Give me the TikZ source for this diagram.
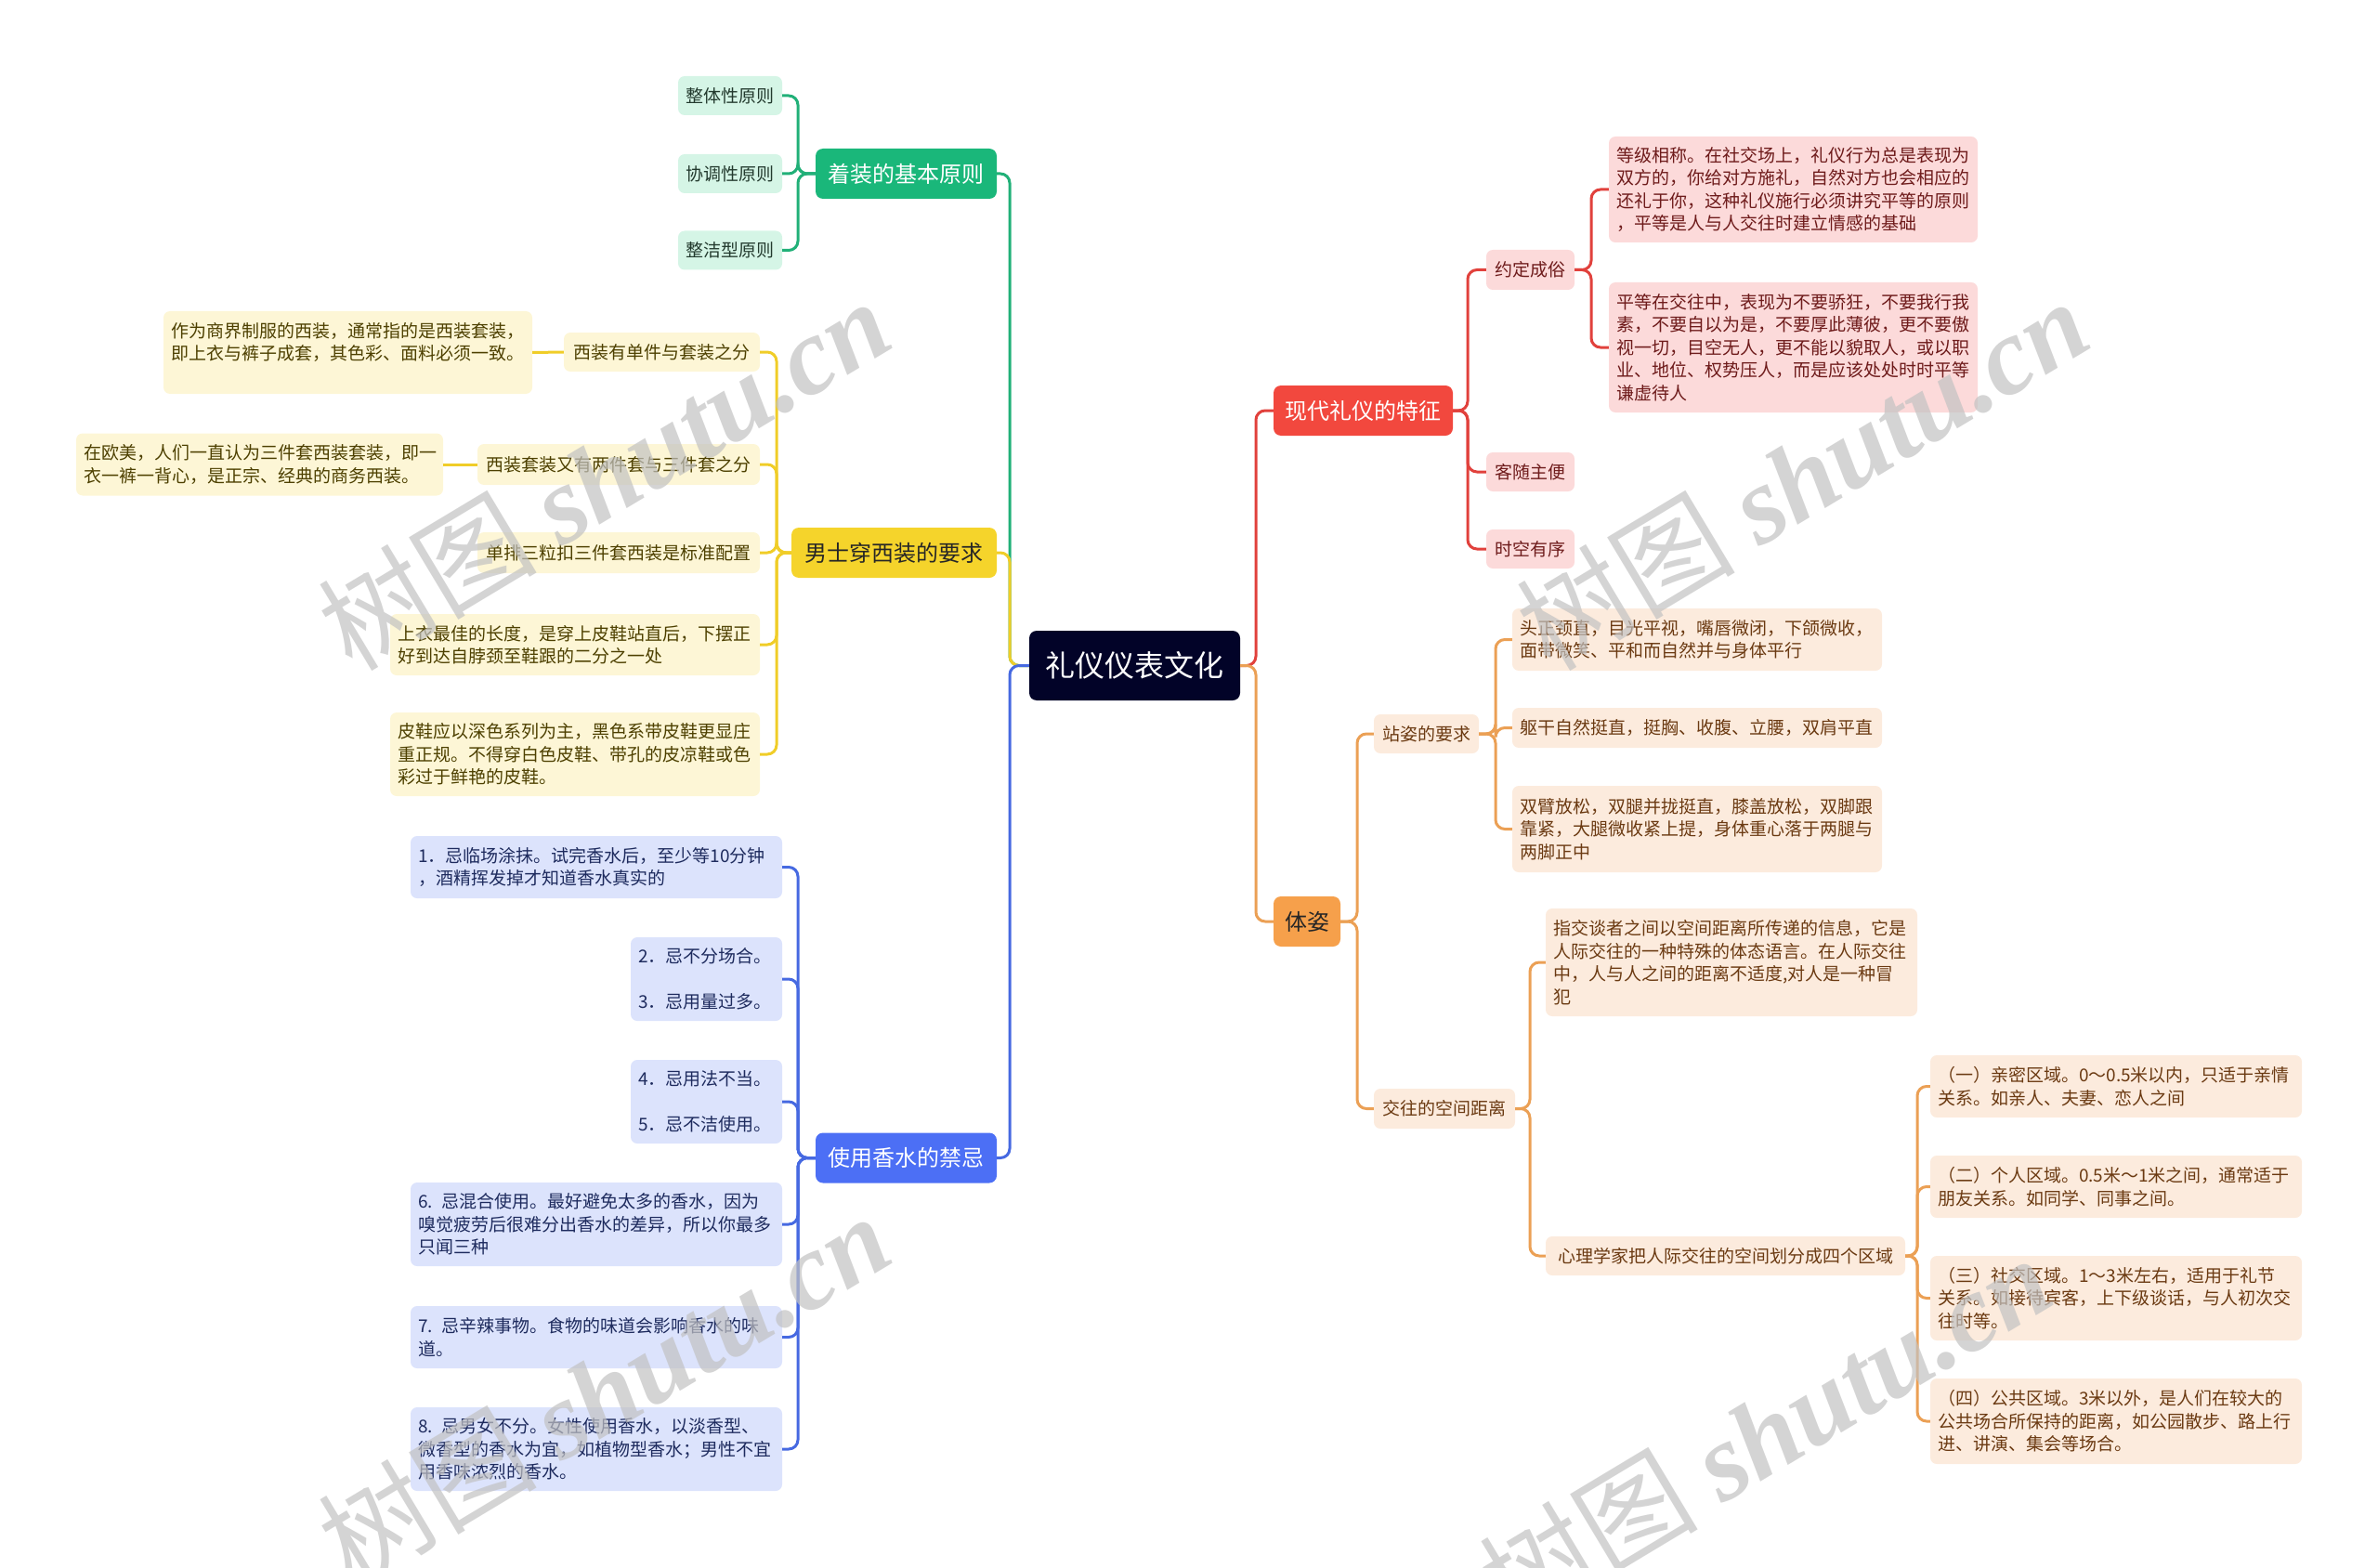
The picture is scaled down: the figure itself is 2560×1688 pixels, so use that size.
\documentclass[tikz,border=0pt]{standalone}
\usepackage{fontspec}
\setmainfont{Noto Sans CJK SC}
\newfontfamily\wmserif{Liberation Serif}
\usetikzlibrary{calc}
\setlength{\parindent}{0pt}
\definecolor{gMain}{RGB}{26,183,122}
\definecolor{gLight}{RGB}{213,245,230}
\definecolor{gLine}{RGB}{33,176,120}
\definecolor{gText}{RGB}{35,58,46}
\definecolor{yMain}{RGB}{245,212,43}
\definecolor{yLight}{RGB}{253,246,214}
\definecolor{yLine}{RGB}{240,205,40}
\definecolor{yText}{RGB}{77,64,0}
\definecolor{bMain}{RGB}{76,111,245}
\definecolor{bLight}{RGB}{220,227,252}
\definecolor{bLine}{RGB}{70,105,225}
\definecolor{bText}{RGB}{30,43,94}
\definecolor{rMain}{RGB}{242,72,62}
\definecolor{rLight}{RGB}{252,218,218}
\definecolor{rLine}{RGB}{225,65,60}
\definecolor{rText}{RGB}{110,27,27}
\definecolor{oMain}{RGB}{246,160,75}
\definecolor{oLight}{RGB}{252,235,221}
\definecolor{oLine}{RGB}{235,160,85}
\definecolor{oText}{RGB}{107,58,18}
\definecolor{rootC}{RGB}{2,3,40}
\begin{document}
\begin{tikzpicture}[x=1pt,y=-1pt,
  rootbox/.style={rounded corners=8pt, fill=rootC, text=white, inner sep=0pt,
    minimum width=227pt, minimum height=75pt, font=\fontsize{32}{38}\selectfont},
  mainbox/.style={rounded corners=8pt, inner sep=0pt, minimum height=54pt,
    font=\fontsize{24}{30}\selectfont},
  shortbox/.style={rounded corners=7pt, inner sep=0pt, minimum height=42pt,
    font=\fontsize{19}{24.5}\selectfont},
  leafbox/.style={rounded corners=7pt, inner xsep=8pt, inner ysep=3pt, align=left,
    font=\fontsize{19}{24.5}\selectfont},
  gs/.style={fill=gLight, text=gText},
  ys/.style={fill=yLight, text=yText},
  bs/.style={fill=bLight, text=bText},
  rs/.style={fill=rLight, text=rText},
  os/.style={fill=oLight, text=oText},
  link/.style={line width=3pt, rounded corners=10pt},
  wm/.style={text=black!24, opacity=0.7, font=\fontsize{118}{118}\selectfont}
]
\useasboundingbox (0,0) rectangle (2560,1688);

% root
\node[rootbox] (root) at (1221.5,716.5) {礼仪仪表文化};

% spines / brackets
\coordinate (L) at (1087,0);
\coordinate (R) at (1352,0);
\coordinate (gx) at (859,0);
\coordinate (yx) at (836,0);
\coordinate (bx) at (859,0);
\coordinate (rx) at (1580,0);
\coordinate (r1x) at (1713,0);
\coordinate (ox) at (1461,0);
\coordinate (o1x) at (1610,0);
\coordinate (o2x) at (1647,0);
\coordinate (o2bx) at (2064,0);

% level 1
\node[mainbox, fill=gMain, text=white, minimum width=195pt] (g) at (975.5,187) {着装的基本原则};
\node[mainbox, fill=yMain, text=black!85, minimum width=221pt] (y) at (962.5,595) {男士穿西装的要求};
\node[mainbox, fill=bMain, text=white, minimum width=195pt] (b) at (975.5,1246.5) {使用香水的禁忌};
\node[mainbox, fill=rMain, text=white, minimum width=193pt] (r) at (1467.5,442) {现代礼仪的特征};
\node[mainbox, fill=oMain, text=black!85, minimum width=72pt] (o) at (1407,992) {体姿};

% green
\node[shortbox, gs, minimum width=112pt] (g1) at (786,103) {整体性原则};
\node[shortbox, gs, minimum width=112pt] (g2) at (786,187) {协调性原则};
\node[shortbox, gs, minimum width=112pt] (g3) at (786,269.5) {整洁型原则};

% yellow
\node[shortbox, ys, minimum width=211pt] (y1) at (712.5,379) {西装有单件与套装之分};
\node[leafbox, ys, text width=381pt, minimum height=89pt] (y1a) at (374.5,379.5)
  {作为商界制服的西装，通常指的是西装套装，\\即上衣与裤子成套，其色彩、面料必须一致。\\\mbox{}};
\node[shortbox, ys, minimum width=304pt, minimum height=44pt] (y2) at (666,500) {西装套装又有两件套与三件套之分};
\node[leafbox, ys, text width=379pt, minimum height=67pt] (y2a) at (279.5,500)
  {在欧美，人们一直认为三件套西装套装，即一\\衣一裤一背心，是正宗、经典的商务西装。};
\node[shortbox, ys, minimum width=304pt, minimum height=44pt] (y3) at (666,595) {单排三粒扣三件套西装是标准配置};
\node[leafbox, ys, text width=382pt, minimum height=66pt] (y4) at (619,694)
  {上衣最佳的长度，是穿上皮鞋站直后，下摆正\\好到达自脖颈至鞋跟的二分之一处};
\node[leafbox, ys, text width=382pt, minimum height=90pt] (y5) at (619,812)
  {皮鞋应以深色系列为主，黑色系带皮鞋更显庄\\重正规。不得穿白色皮鞋、带孔的皮凉鞋或色\\彩过于鲜艳的皮鞋。};

% blue
\node[leafbox, bs, text width=384pt, minimum height=67pt] (b1) at (642,933.5)
  {1．忌临场涂抹。试完香水后，至少等10分钟\\，酒精挥发掉才知道香水真实的};
\node[leafbox, bs, text width=147pt, minimum height=90pt] (b2) at (760.5,1054)
  {2．忌不分场合。\\\mbox{}\\3．忌用量过多。};
\node[leafbox, bs, text width=147pt, minimum height=90pt] (b3) at (760.5,1186)
  {4．忌用法不当。\\\mbox{}\\5．忌不洁使用。};
\node[leafbox, bs, text width=384pt, minimum height=90pt] (b4) at (642,1318)
  {6. 忌混合使用。最好避免太多的香水，因为\\嗅觉疲劳后很难分出香水的差异，所以你最多\\只闻三种};
\node[leafbox, bs, text width=384pt, minimum height=67pt] (b5) at (642,1439.5)
  {7. 忌辛辣事物。食物的味道会影响香水的味\\道。};
\node[leafbox, bs, text width=384pt, minimum height=90pt] (b6) at (642,1560)
  {8. 忌男女不分。女性使用香水，以淡香型、\\微香型的香水为宜，如植物型香水；男性不宜\\用香味浓烈的香水。};

% red
\node[shortbox, rs, minimum width=95pt, minimum height=43pt] (r1) at (1647.5,290.5) {约定成俗};
\node[leafbox, rs, text width=381pt, minimum height=114pt] (r1a) at (1930.5,204)
  {等级相称。在社交场上，礼仪行为总是表现为\\双方的，你给对方施礼，自然对方也会相应的\\还礼于你，这种礼仪施行必须讲究平等的原则\\，平等是人与人交往时建立情感的基础};
\node[leafbox, rs, text width=381pt, minimum height=140pt] (r1b) at (1930.5,374)
  {平等在交往中，表现为不要骄狂，不要我行我\\素，不要自以为是，不要厚此薄彼，更不要傲\\视一切，目空无人，更不能以貌取人，或以职\\业、地位、权势压人，而是应该处处时时平等\\谦虚待人};
\node[shortbox, rs, minimum width=95pt] (r2) at (1647.5,508) {客随主便};
\node[shortbox, rs, minimum width=95pt] (r3) at (1647.5,591) {时空有序};

% orange
\node[shortbox, os, minimum width=113pt] (o1) at (1535.5,790) {站姿的要求};
\node[leafbox, os, text width=382pt, minimum height=67pt] (o1a) at (1827,688.5)
  {头正颈直，目光平视，嘴唇微闭，下颌微收，\\面带微笑、平和而自然并与身体平行};
\node[leafbox, os, text width=382pt, minimum height=43pt] (o1b) at (1827,783.5)
  {躯干自然挺直，挺胸、收腹、立腰，双肩平直};
\node[leafbox, os, text width=382pt, minimum height=93pt] (o1c) at (1827,892.5)
  {双臂放松，双腿并拢挺直，膝盖放松，双脚跟\\靠紧，大腿微收紧上提，身体重心落于两腿与\\两脚正中};
\node[shortbox, os, minimum width=152pt, minimum height=43pt] (o2) at (1555,1193.5) {交往的空间距离};
\node[leafbox, os, text width=384pt, minimum height=116pt] (o2a) at (1864,1036)
  {指交谈者之间以空间距离所传递的信息，它是\\人际交往的一种特殊的体态语言。在人际交往\\中，人与人之间的距离不适度,对人是一种冒\\犯};
\node[shortbox, os, minimum width=387pt] (o2b) at (1857.5,1352) {心理学家把人际交往的空间划分成四个区域};
\node[leafbox, os, text width=384pt, minimum height=67pt] (o2b1) at (2278,1169.5)
  {（一）亲密区域。0～0.5米以内，只适于亲情\\关系。如亲人、夫妻、恋人之间};
\node[leafbox, os, text width=384pt, minimum height=67pt] (o2b2) at (2278,1277.5)
  {（二）个人区域。0.5米～1米之间，通常适于\\朋友关系。如同学、同事之间。};
\node[leafbox, os, text width=384pt, minimum height=91pt] (o2b3) at (2278,1397.5)
  {（三）社交区域。1～3米左右，适用于礼节\\关系。如接待宾客，上下级谈话，与人初次交\\往时等。};
\node[leafbox, os, text width=384pt, minimum height=92pt] (o2b4) at (2278,1530)
  {（四）公共区域。3米以外，是人们在较大的\\公共场合所保持的距离，如公园散步、路上行\\进、讲演、集会等场合。};

% connectors: root
\draw[link, gLine] (root.west) -- (root.west -| L) |- (g.east);
\draw[link, yLine] (root.west) -- (root.west -| L) |- (y.east);
\draw[link, bLine] (root.west) -- (root.west -| L) |- (b.east);
\draw[link, rLine] (root.east) -- (root.east -| R) |- (r.west);
\draw[link, oLine] (root.east) -- (root.east -| R) |- (o.west);

% green
\foreach \c in {g1,g2,g3}
  \draw[link, gLine] (g.west) -- (g.west -| gx) |- (\c.east);
% yellow
\foreach \c in {y1,y2,y3,y4,y5}
  \draw[link, yLine] (y.west) -- (y.west -| yx) |- (\c.east);
\draw[link, yLine] (y1.west) -- (y1a.east);
\draw[link, yLine] (y2.west) -- (y2a.east);
% blue
\foreach \c in {b1,b2,b3,b4,b5,b6}
  \draw[link, bLine] (b.west) -- (b.west -| bx) |- (\c.east);
% red
\foreach \c in {r1,r2,r3}
  \draw[link, rLine] (r.east) -- (r.east -| rx) |- (\c.west);
\foreach \c in {r1a,r1b}
  \draw[link, rLine] (r1.east) -- (r1.east -| r1x) |- (\c.west);
% orange
\foreach \c in {o1,o2}
  \draw[link, oLine] (o.east) -- (o.east -| ox) |- (\c.west);
\foreach \c in {o1a,o1b,o1c}
  \draw[link, oLine] (o1.east) -- (o1.east -| o1x) |- (\c.west);
\foreach \c in {o2a,o2b}
  \draw[link, oLine] (o2.east) -- (o2.east -| o2x) |- (\c.west);
\foreach \c in {o2b1,o2b2,o2b3,o2b4}
  \draw[link, oLine] (o2b.east) -- (o2b.east -| o2bx) |- (\c.west);

% watermarks
\node[wm, rotate=31] (wm1) at (650,510) {树图 {\wmserif\itshape\bfseries shutu.cn}};
\node[wm, rotate=31] (wm2) at (1940,510) {树图 {\wmserif\itshape\bfseries shutu.cn}};
\node[wm, rotate=31] (wm3) at (650,1495) {树图 {\wmserif\itshape\bfseries shutu.cn}};
\node[wm, rotate=31] (wm4) at (1900,1540) {树图 {\wmserif\itshape\bfseries shutu.cn}};
\end{tikzpicture}
\end{document}
